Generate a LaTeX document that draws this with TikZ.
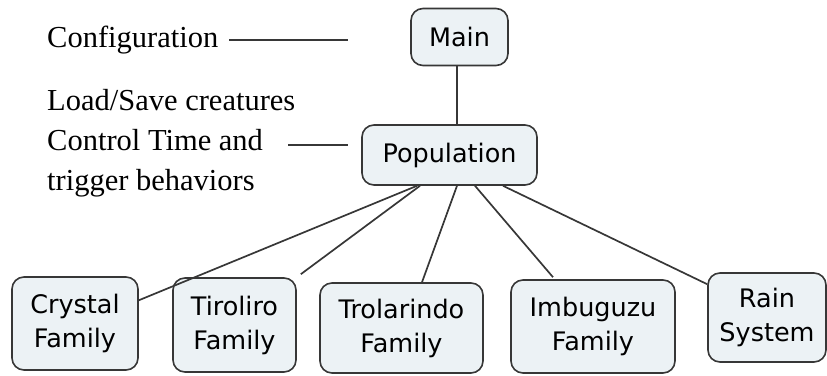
\documentclass[tikz,border=0pt]{standalone}
\usepackage{fontspec}
\setmainfont{Liberation Serif}
\newfontfamily\boxfont{DejaVu Sans}
\usepackage{tikz}
\usetikzlibrary{positioning}

\definecolor{boxfill}{RGB}{236,242,245}
\definecolor{boxline}{RGB}{55,55,55}

\begin{document}
\begin{tikzpicture}[x=1pt,y=-1pt,
		block/.style={draw=boxline, line width=1.6pt, fill=boxfill, rounded corners=12pt,
			align=center, inner sep=0pt, font=\boxfont\fontsize{25.5}{34}\selectfont},
		note/.style={align=left, inner sep=0pt, font=\fontsize{30.5}{40}\selectfont},
		link/.style={draw=boxline, line width=1.7pt}]
		\useasboundingbox (0,0) rectangle (827,375);
		% top of the tree
		\node[block, minimum width=97pt, minimum height=57pt] (main) at (459.5,37) {Main};
		\node[block, minimum width=175pt, minimum height=60pt] (pop) at (449.5,155) {Population};
		% families
		\node[block, minimum width=126pt, minimum height=93pt] (crystal) at (75,323.5) {Crystal\\Family};
		\node[block, minimum width=123pt, minimum height=94pt] (tiroliro) at (234.5,325) {Tiroliro\\Family};
		\node[block, minimum width=163pt, minimum height=90pt] (trolarindo) at (401.5,328) {Trolarindo\\Family};
		\node[block, minimum width=164pt, minimum height=93pt] (imbuguzu) at (593,326.5) {Imbuguzu\\Family};
		\node[block, minimum width=118pt, minimum height=89pt] (rain) at (767,317.5) {Rain\\System};
		% notes on the left
		\node[note, anchor=base west] (conf) at (47,47) {Configuration};
		\node[note, anchor=west] (loadsave) at (47,143) {Load/Save creatures\\Control Time and\\trigger behaviors};
		\coordinate (confend) at (348,40);
		\coordinate (ctrlstart) at (288,145);
		\coordinate (ctrlend) at (348,145);
		\draw[link] (confend -| 229,0) -- (confend);
		\draw[link] (ctrlstart) -- (ctrlend);
		% connectors
		\draw[link] ([xshift=-2.5pt]main.south) -- ([xshift=-2.5pt]main.south |- pop.north);
		\draw[link] ([xshift=-32.5pt]pop.south) -- (crystal.20);
		\draw[link] ([xshift=-29.5pt]pop.south) -- ([xshift=4pt,yshift=3pt]tiroliro.north east);
		\draw[link] ([xshift=7.5pt]pop.south) -- ([xshift=20.5pt]trolarindo.north);
		\draw[link] ([xshift=25.5pt]pop.south) -- ([xshift=-40pt,yshift=2pt]imbuguzu.north);
		\draw[link] ([xshift=53.5pt]pop.south) -- ([yshift=-12pt]rain.north west);
		\end{tikzpicture}
\end{document}
